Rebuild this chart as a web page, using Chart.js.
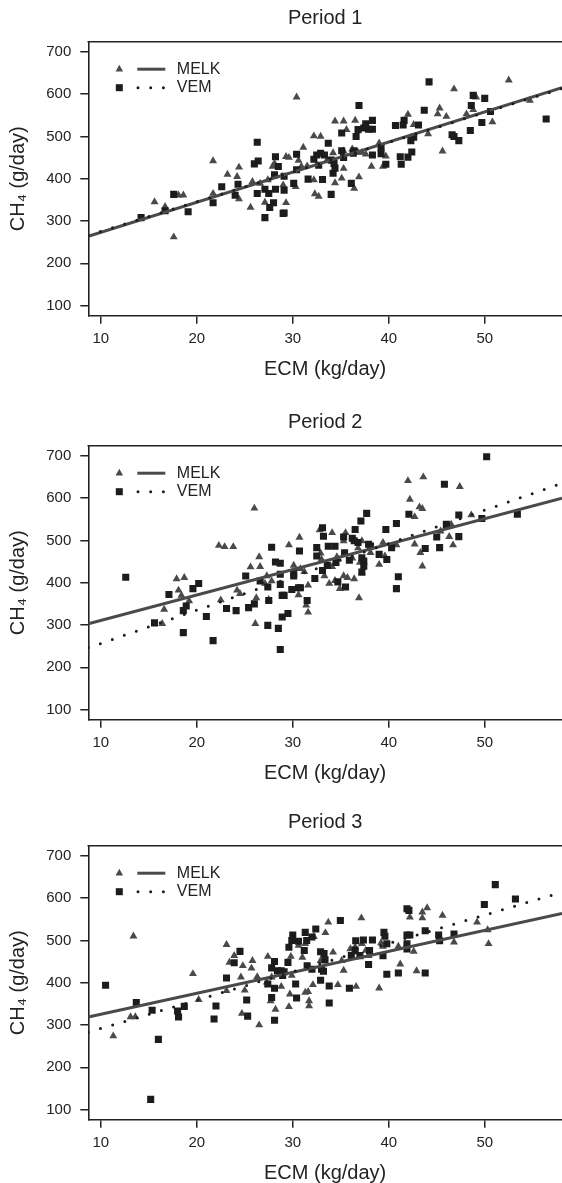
<!DOCTYPE html>
<html>
<head>
<meta charset="utf-8">
<script src="https://cdn.jsdelivr.net/npm/chart.js@4.4.1/dist/chart.umd.min.js"></script>
<style>
  body { margin: 0; background: #fff; width: 562px; height: 1183px; overflow: hidden; position: relative; }
  .panel { position: absolute; left: 0; width: 562px; height: 379px; }
</style>
</head>
<body>
<div class="panel" style="top:0px"><canvas id="g0" width="562" height="379"></canvas></div>
<div class="panel" style="top:404px"><canvas id="g1" width="562" height="379"></canvas></div>
<div class="panel" style="top:804px"><canvas id="g2" width="562" height="379"></canvas></div>
<script>
// datos
const periods = ['Period 1', 'Period 2', 'Period 3'];
const groups = ['MELK', 'VEM'];
const ecmTicks = [10, 20, 30, 40, 50];
const ch4Ticks = [100, 200, 300, 400, 500, 600, 700];
const ecmRange = [8.7, 58.05];
const ch4Range = [76, 724];

// Period 1
const p1Melk = [[15.6,345],[16.7,334],[17.6,262],[18.1,361],[18.6,361],[21.7,442],[21.7,365],[23.2,410],[24.2,405],[24.4,427],[24.4,352],[25.6,332],[25.8,393],[26.6,389],[27.1,344],[27.9,429],[28.1,436],[27.4,397],[29.3,343],[29.3,452],[29.6,450],[29.0,385],[30.4,593],[30.6,443],[30.3,381],[31.1,474],[32.2,501],[32.9,500],[32.3,364],[32.7,358],[32.2,397],[34.4,536],[35.3,536],[35.6,516],[36.5,538],[34.2,461],[35.3,465],[36.2,470],[36.8,462],[34.4,390],[36.4,377],[36.9,404],[35.1,401],[35.3,424],[38.2,429],[39.0,484],[39.4,429],[39.7,453],[42.0,552],[42.6,528],[44.1,506],[45.3,567],[45.1,553],[46.0,547],[45.6,465],[46.8,612],[48.1,553],[48.8,563],[49.1,593],[50.8,534],[52.5,633],[54.7,585],[37.2,462],[37.6,458],[30.9,429],[33.6,445],[31.5,430]];
const p1Vem = [[14.2,308],[16.7,324],[17.6,363],[19.1,322],[21.7,343],[22.6,381],[24.0,361],[24.3,387],[26.3,486],[26.4,442],[26.0,435],[26.3,365],[27.1,375],[27.1,308],[27.5,365],[27.6,332],[28.0,343],[28.1,409],[28.2,375],[28.2,452],[28.5,429],[29.0,318],[29.1,319],[29.1,373],[29.1,406],[30.1,389],[30.4,458],[30.4,421],[31.6,399],[32.2,446],[32.5,456],[32.7,432],[32.9,460],[33.3,456],[33.1,398],[33.7,484],[34.0,363],[34.0,444],[34.3,436],[34.2,413],[34.4,425],[35.1,508],[35.3,450],[35.1,466],[36.1,389],[36.3,460],[36.4,466],[36.6,500],[36.8,516],[36.9,573],[37.4,520],[37.6,530],[37.9,517],[38.3,538],[38.3,517],[38.3,456],[39.2,459],[39.2,474],[39.7,434],[40.7,526],[41.5,527],[41.6,538],[41.2,452],[41.3,434],[42.0,451],[42.3,490],[42.4,463],[42.6,498],[43.1,527],[43.7,562],[44.2,629],[46.6,504],[46.8,500],[47.3,490],[48.5,514],[48.6,573],[48.8,597],[49.7,533],[50.0,590],[50.6,559],[56.4,541]];
const p1MelkFit = [264, 615];
const p1VemFit = [266, 613];

// Period 2
const p2Melk = [[16.4,303],[16.6,337],[17.9,409],[18.1,382],[18.7,412],[18.4,370],[19.2,357],[22.3,488],[22.9,485],[23.8,485],[22.5,359],[24.2,382],[24.5,374],[25.6,437],[26.0,576],[26.2,364],[26.1,303],[26.5,461],[26.6,438],[27.3,416],[27.1,398],[27.5,360],[27.8,404],[29.6,489],[30.1,441],[30.7,507],[30.8,433],[30.6,371],[31.2,426],[31.4,347],[31.6,394],[31.6,330],[32.8,525],[33.0,455],[32.9,470],[33.3,416],[33.8,398],[34.1,518],[34.1,438],[34.4,405],[34.6,461],[34.9,386],[35.3,499],[35.5,518],[35.3,416],[35.7,412],[36.4,409],[36.2,458],[36.9,364],[37.2,499],[36.8,482],[37.2,425],[37.0,448],[38.1,471],[39.0,443],[39.4,495],[39.6,463],[40.8,489],[42.0,641],[42.2,597],[42.7,556],[42.7,491],[43.2,579],[43.5,575],[43.6,650],[43.3,471],[43.5,439],[45.4,522],[46.3,509],[46.5,538],[46.7,489],[47.4,627],[48.6,560]];
const p2Vem = [[12.6,413],[15.6,305],[17.1,372],[18.6,282],[18.6,334],[18.9,345],[19.6,386],[20.2,398],[21.0,320],[21.7,263],[23.1,339],[24.1,334],[25.1,416],[25.4,341],[26.0,350],[26.6,404],[27.4,390],[27.5,358],[27.4,299],[27.8,484],[28.2,449],[28.7,446],[28.5,292],[28.7,242],[28.7,420],[28.7,396],[28.9,319],[28.9,370],[29.1,370],[29.5,327],[29.9,384],[30.1,422],[30.1,416],[30.6,388],[30.8,388],[30.7,475],[31.5,358],[32.3,410],[32.5,463],[32.5,483],[33.1,530],[33.2,510],[33.1,429],[33.7,486],[34.4,486],[33.6,441],[34.5,448],[34.7,402],[35.3,508],[35.4,471],[35.5,390],[35.9,453],[36.2,505],[36.4,499],[36.5,526],[36.8,495],[37.1,546],[37.2,425],[37.2,459],[37.4,451],[37.4,439],[37.7,564],[37.9,491],[38.1,487],[39.0,467],[39.7,526],[39.8,455],[40.3,483],[40.8,540],[41.0,414],[40.8,386],[42.1,562],[43.8,481],[45.0,508],[45.3,483],[45.8,633],[46.0,538],[47.3,560],[47.3,509],[49.7,552],[50.2,698],[53.4,562]];
const p2MelkFit = [303, 600];
const p2VemFit = [246, 635];

// Period 3
const p3Melk = [[11.3,274],[13.1,319],[13.6,319],[13.4,510],[19.6,421],[20.2,360],[23.1,490],[23.4,448],[23.1,381],[23.9,464],[24.6,413],[24.7,327],[24.8,440],[25.0,382],[25.7,434],[25.8,452],[26.3,414],[26.5,300],[27.4,462],[27.3,401],[27.7,357],[27.8,413],[28.2,337],[28.8,391],[29.6,343],[29.7,373],[29.8,462],[29.9,417],[30.6,488],[31.0,460],[31.3,492],[31.6,379],[31.3,377],[31.7,357],[31.7,345],[32.1,395],[32.2,509],[32.9,452],[33.4,518],[33.7,543],[34.2,472],[34.7,395],[35.1,452],[35.3,429],[36.0,480],[36.5,484],[36.6,391],[37.15,553],[37.2,492],[37.6,476],[37.9,464],[39.0,387],[39.2,494],[39.4,486],[41.0,486],[41.2,444],[42.2,555],[42.6,474],[42.9,428],[43.5,553],[43.5,567],[44.0,577],[45.6,559],[46.8,496],[49.2,543],[50.3,525],[50.4,492]];
const p3Vem = [[10.5,394],[13.7,353],[15.2,124],[15.35,335],[16.0,266],[18.0,333],[18.1,319],[18.7,344],[21.8,314],[22.0,345],[23.1,411],[23.9,447],[24.5,474],[25.2,359],[25.3,321],[27.4,397],[27.8,435],[27.8,365],[28.1,450],[28.1,387],[28.1,311],[28.4,428],[28.8,428],[28.95,417],[29.1,426],[29.5,448],[29.6,484],[30.0,513],[29.9,500],[30.3,397],[30.4,364],[30.6,498],[31.3,519],[31.2,476],[32.4,527],[31.45,500],[32.0,508],[33.26,469],[32.9,473],[33.36,454],[33.0,432],[32.0,432],[31.5,440],[33.2,427],[32.9,406],[33.8,392],[33.8,352],[35.9,387],[34.96,547],[36.56,499],[37.36,501],[38.3,501],[36.5,477],[36.1,464],[37.0,464],[38.0,476],[37.9,443],[39.4,464],[39.5,519],[39.6,510],[39.8,492],[39.8,420],[41.0,423],[41.9,575],[42.1,571],[41.9,513],[42.2,513],[41.9,492],[41.9,480],[43.8,523],[43.8,423],[45.2,513],[45.3,499],[46.8,515],[49.96,585],[51.1,632],[53.2,598]];
const p3MelkFit = [319, 564];
const p3VemFit = [283, 614];

const melkPoints = [p1Melk, p2Melk, p3Melk];
const vemPoints = [p1Vem, p2Vem, p3Vem];
const melkFits = [p1MelkFit, p2MelkFit, p3MelkFit];
const vemFits = [p1VemFit, p2VemFit, p3VemFit];

const fuente = 'Liberation Sans, Arial, Helvetica, sans-serif';
const tinta = '#232323';
const grisMelk = '#4a4a4a';

function aPuntos(pares) {
  return pares.map(p => ({ x: p[0], y: p[1] }));
}
function recta(ys) {
  return [{ x: ecmRange[0], y: ys[0] }, { x: ecmRange[1], y: ys[1] }];
}

// marco superior del area del grafico
const marco = {
  id: 'marco',
  afterDraw(chart) {
    const { ctx, chartArea } = chart;
    ctx.save();
    ctx.strokeStyle = tinta;
    ctx.lineWidth = 1.6;
    ctx.beginPath();
    ctx.moveTo(chartArea.left - 0.8, chartArea.top);
    ctx.lineTo(chartArea.right, chartArea.top);
    ctx.stroke();
    ctx.restore();
  }
};

// leyenda dentro del grafico, arriba a la izquierda
const leyenda = {
  id: 'leyenda',
  afterDraw(chart) {
    const { ctx, chartArea } = chart;
    const x0 = chartArea.left;
    const filas = [chartArea.top + 27.5, chartArea.top + 46];
    ctx.save();
    // MELK
    let y = filas[0];
    ctx.fillStyle = grisMelk;
    ctx.beginPath();
    ctx.moveTo(x0 + 31, y - 4.4);
    ctx.lineTo(x0 + 31 + 3.8, y + 2.2);
    ctx.lineTo(x0 + 31 - 3.8, y + 2.2);
    ctx.closePath();
    ctx.fill();
    ctx.strokeStyle = grisMelk;
    ctx.lineWidth = 3;
    ctx.beginPath();
    ctx.moveTo(x0 + 49, y);
    ctx.lineTo(x0 + 77, y);
    ctx.stroke();
    ctx.fillStyle = tinta;
    ctx.font = '16px ' + fuente;
    ctx.textBaseline = 'middle';
    ctx.fillText(groups[0], x0 + 88.5, y);
    // VEM
    y = filas[1];
    ctx.fillStyle = '#1c1c1c';
    ctx.fillRect(x0 + 31 - 3.5, y - 3.5, 7, 7);
    ctx.strokeStyle = '#1c1c1c';
    ctx.setLineDash([0, 12.7]);
    ctx.lineCap = 'round';
    ctx.beginPath();
    ctx.moveTo(x0 + 49.7, y);
    ctx.lineTo(x0 + 77, y);
    ctx.stroke();
    ctx.setLineDash([]);
    ctx.fillStyle = tinta;
    ctx.fillText(groups[1], x0 + 88.5, y);
    ctx.restore();
  }
};

function crearPanel(i) {
  const ctx = document.getElementById('g' + i).getContext('2d');
  return new Chart(ctx, {
    type: 'scatter',
    data: {
      datasets: [
        {
          label: groups[1] + ' fit',
          type: 'line',
          data: recta(vemFits[i]),
          borderColor: '#1c1c1c',
          borderWidth: 3,
          borderDash: [0, 12.7],
          borderCapStyle: 'round',
          pointRadius: 0,
          fill: false,
          order: 0
        },
        {
          label: groups[0] + ' fit',
          type: 'line',
          data: recta(melkFits[i]),
          borderColor: grisMelk,
          borderWidth: 3,
          pointRadius: 0,
          fill: false,
          order: 0
        },
        {
          label: groups[1],
          data: aPuntos(vemPoints[i]),
          pointStyle: 'rect',
          pointRadius: 5,
          pointBorderWidth: 0,
          backgroundColor: '#1c1c1c',
          order: 1
        },
        {
          label: groups[0],
          data: aPuntos(melkPoints[i]),
          pointStyle: 'triangle',
          pointRadius: 4.6,
          pointBorderWidth: 0,
          backgroundColor: grisMelk,
          order: 2
        }
      ]
    },
    options: {
      responsive: false,
      animation: false,
      events: [],
      layout: { padding: 0, autoPadding: false },
      plugins: {
        legend: { display: false },
        tooltip: { enabled: false },
        title: {
          display: true,
          text: periods[i],
          fullSize: false,
          color: tinta,
          font: { family: fuente, size: 20, weight: 'normal', lineHeight: 1.2 },
          padding: { top: 6, bottom: 11.7 }
        }
      },
      scales: {
        x: {
          type: 'linear',
          position: 'bottom',
          min: ecmRange[0],
          max: ecmRange[1],
          afterBuildTicks: s => { s.ticks = ecmTicks.map(v => ({ value: v })); },
          afterFit: s => { s.height = 379 - 315.7; },
          ticks: { color: tinta, font: { family: fuente, size: 15 }, padding: 6, maxRotation: 0 },
          grid: { drawOnChartArea: false, drawTicks: true, tickLength: 8, color: tinta, lineWidth: 1.5 },
          border: { display: true, color: tinta, width: 1.6 },
          title: {
            display: true,
            text: 'ECM (kg/day)',
            color: tinta,
            font: { family: fuente, size: 20, lineHeight: 1 },
            padding: { top: 0, bottom: 0 }
          }
        },
        y: {
          type: 'linear',
          position: 'left',
          min: ch4Range[0],
          max: ch4Range[1],
          afterBuildTicks: s => { s.ticks = ch4Ticks.map(v => ({ value: v })); },
          afterFit: s => { s.width = 88.3; },
          ticks: { color: tinta, font: { family: fuente, size: 15 }, padding: 9 },
          grid: { drawOnChartArea: false, drawTicks: true, tickLength: 8, color: tinta, lineWidth: 1.5 },
          border: { display: true, color: tinta, width: 1.6 },
          title: {
            display: true,
            text: 'CH\u2084 (g/day)',
            color: tinta,
            font: { family: fuente, size: 20, lineHeight: 1 },
            padding: { top: 8, bottom: 0 }
          }
        }
      }
    },
    plugins: [marco, leyenda]
  });
}

periods.forEach((p, i) => crearPanel(i));
</script>
</body>
</html>
